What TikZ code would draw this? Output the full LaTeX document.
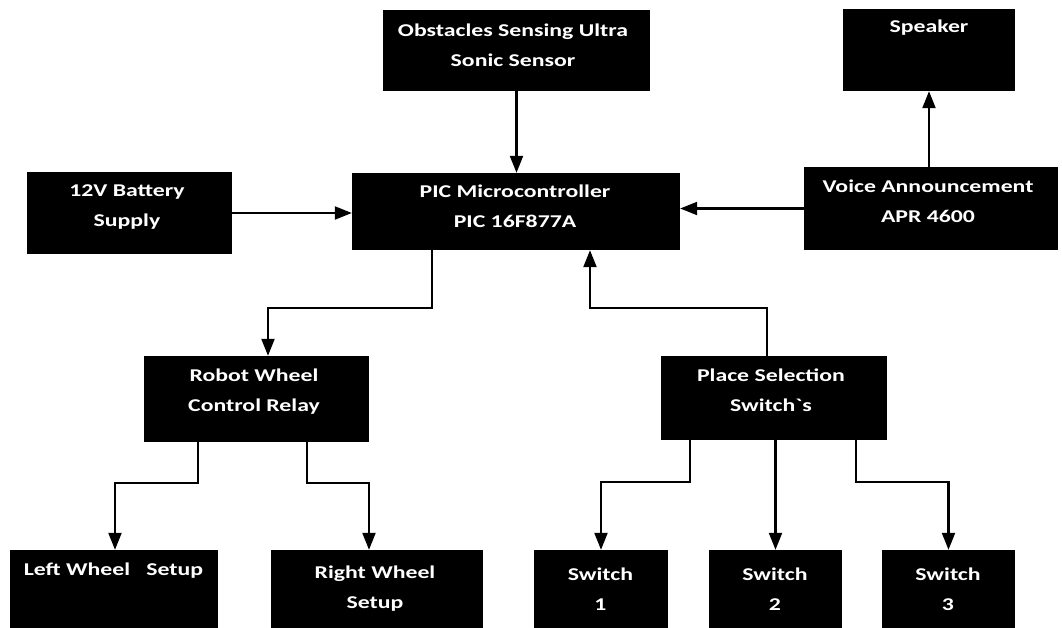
\documentclass[tikz,border=0pt]{standalone}
\usepackage{fontspec}
\newfontfamily\lblfont[FakeStretch=1.32]{Carlito}
\usetikzlibrary{arrows.meta}
\begin{document}
\begin{tikzpicture}[x=1pt,y=-1pt,
  blk/.style={fill=black,draw=none,inner sep=0pt},
  lbl/.style={text=white,font=\lblfont\bfseries\fontsize{18}{30}\selectfont,align=center,inner sep=0pt},
  arr/.style={line width=2.2pt,line join=miter,-{Triangle[length=17pt,width=13pt]}}]
\useasboundingbox (0,0) rectangle (1062,628);
% boxes
\node[blk,minimum width=267,minimum height=81] (obs) at (516.5,50.5) {};
\node[blk,minimum width=172,minimum height=82] (spk) at (929,50) {};
\node[blk,minimum width=205,minimum height=82] (bat) at (129.5,213) {};
\node[blk,minimum width=328,minimum height=77] (pic) at (516,211.5) {};
\node[blk,minimum width=254,minimum height=83] (voice) at (931,208.5) {};
\node[blk,minimum width=225,minimum height=86] (robot) at (256.5,399) {};
\node[blk,minimum width=226,minimum height=84] (place) at (774,398) {};
\node[blk,minimum width=208,minimum height=78] (left) at (114,589) {};
\node[blk,minimum width=212,minimum height=78] (right) at (377,589) {};
\node[blk,minimum width=134,minimum height=78] (s1) at (601,589) {};
\node[blk,minimum width=133,minimum height=78] (s2) at (775.5,589) {};
\node[blk,minimum width=133,minimum height=78] (s3) at (948.5,589) {};
% labels
\node[lbl] (obsT) at (513,45) {Obstacles Sensing Ultra\\Sonic Sensor};
\node[lbl] (spkT) at (929,28) {Speaker};
\node[lbl] (batT) at (127,207.5) {12V Battery\\Supply};
\node[lbl] (picT) at (515,206.5) {PIC Microcontroller\\PIC 16F877A};
\node[lbl] (voiceT) at (928,201.5) {Voice Announcement\\APR 4600};
\node[lbl] (robotT) at (254,391.5) {Robot Wheel\\Control Relay};
\node[lbl] (placeT) at (771,390) {Place Selection\\Switch`s};
\node[lbl] (leftT) at (113.5,571) {Left Wheel\ \ \ Setup};
\node[lbl] (rightT) at (375,589) {Right Wheel\\Setup};
\node[lbl] (s1T) at (600.5,589) {Switch\\1};
\node[lbl] (s2T) at (775,589) {Switch\\2};
\node[lbl] (s3T) at (948,589) {Switch\\3};
% junction coordinates
\coordinate (j1) at (432,308);
\coordinate (j2) at (268,308);
\coordinate (k1) at (767,308);
\coordinate (k2) at (590,308);
\coordinate (r1) at (198,483);
\coordinate (r2) at (115,483);
\coordinate (r3) at (307,483);
\coordinate (r4) at (369,483);
\coordinate (p1) at (690,482);
\coordinate (p3) at (856,482);
\coordinate (p4) at (948.5,482);
% connectors
\draw[arr] (obs.south) -- (obs.south |- pic.north);
\draw[arr] (bat.east) -- (bat.east -| pic.west);
\draw[arr] (voice.west) -- (voice.west -| pic.east);
\draw[arr] (spk.south |- voice.north) -- (spk.south);
\draw[arr] (pic.south -| j1) -- (j1) -- (j2) -- (robot.north -| j2);
\draw[arr] (place.north -| k1) -- (k1) -- (k2) -- (pic.south -| k2);
\draw[arr] (robot.south -| r1) -- (r1) -- (r2) -- (left.north -| r2);
\draw[arr] (robot.south -| r3) -- (r3) -- (r4) -- (right.north -| r4);
\draw[arr] (place.south -| p1) -- (p1) -| (s1.north);
\draw[arr] (place.south -| s2.north) -- (s2.north);
\draw[arr] (place.south -| p3) -- (p3) -- (p4) -- (s3.north -| p4);
\end{tikzpicture}
\end{document}
